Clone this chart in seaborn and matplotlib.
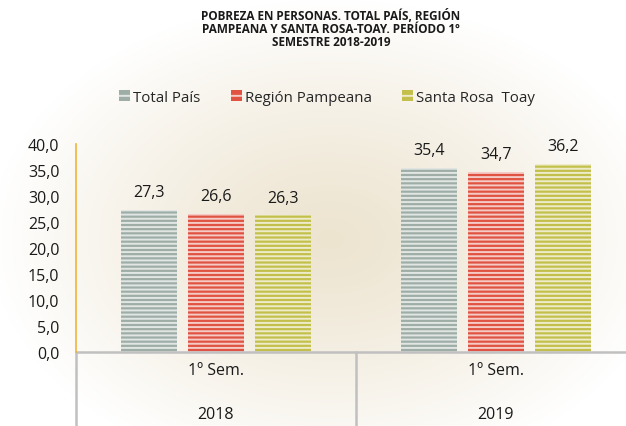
import numpy as np
import pandas as pd
import matplotlib
matplotlib.use("Agg")
import matplotlib.pyplot as plt
import seaborn as sns
from matplotlib.patches import Patch

# ---- data ----
periods = ["2018", "2019"]
semester_labels = ["1º Sem.", "1º Sem."]
series_names = ["Total País", "Región Pampeana", "Santa Rosa  Toay"]
total_pais = [27.3, 35.4]
region_pampeana = [26.6, 34.7]
santa_rosa_toay = [26.3, 36.2]
colors = ["#9eaea7", "#e05241", "#c3bf4b"]
title_lines = ["POBREZA EN PERSONAS. TOTAL PAÍS, REGIÓN",
               "PAMPEANA Y SANTA ROSA-TOAY. PERÍODO 1º",
               "SEMESTRE 2018-2019"]

df = pd.DataFrame({
    "period": periods * 3,
    "serie": [series_names[0]] * 2 + [series_names[1]] * 2 + [series_names[2]] * 2,
    "valor": total_pais + region_pampeana + santa_rosa_toay,
})

sns.set_theme(style="white")
plt.rcParams["font.family"] = ["Open Sans", "DejaVu Sans"]
plt.rcParams["hatch.linewidth"] = 1.4

W, H = 626, 427
fig = plt.figure(figsize=(W / 100, H / 100), dpi=100)

# background radial gradient
bg = fig.add_axes([0, 0, 1, 1], zorder=-10)
yy, xx = np.mgrid[0:H, 0:W]
r = np.sqrt(((xx - 330) / 340.0) ** 2 + ((yy - 240) / 240.0) ** 2)
t = np.clip(r, 0, 1) ** 1.2
c0 = np.array([237, 228, 208]) / 255.0
c1 = np.array([255, 255, 255]) / 255.0
img = c0[None, None, :] * (1 - t[..., None]) + c1[None, None, :] * t[..., None]
bg.imshow(img, aspect="auto", extent=[0, 1, 0, 1], origin="upper")
bg.set_axis_off()

ax = fig.add_axes([76 / W, 1 - 353 / H, 560 / W, (353 - 145) / H])
ax.patch.set_alpha(0)

sns.barplot(data=df, x="period", y="valor", hue="serie", hue_order=series_names,
            order=periods, palette=colors, width=0.718, gap=0.164,
            legend=False, ax=ax, saturation=1)

for cont in ax.containers:
    for p in cont:
        p.set_hatch("----")
        p.set_edgecolor((1, 1, 1, 0.7))
        p.set_linewidth(0)
    ax.bar_label(cont, labels=[f"{v:.1f}".replace(".", ",") for v in cont.datavalues],
                 padding=7, fontsize=11.5, color="#1a1a1a")

ax.set_ylim(0, 40)
ax.set_xlim(-0.5, 1.5)
ax.set_yticks(np.arange(0, 41, 5))
ax.set_yticklabels([f"{v:.1f}".replace(".", ",") for v in np.arange(0, 41, 5)],
                   fontsize=11.5, color="#1a1a1a")
ax.tick_params(axis="y", length=0, pad=12)
ax.set_xticks([0, 1])
ax.set_xticklabels(semester_labels, fontsize=11.5, color="#1a1a1a")
ax.tick_params(axis="x", length=0, pad=7)
ax.set_xlabel("")
ax.set_ylabel("")
for s in ["top", "right", "bottom"]:
    ax.spines[s].set_visible(False)
ax.spines["left"].set_color("#f0b43c")
ax.spines["left"].set_linewidth(1.2)

# multi-level category axis lines
line_kw = dict(color="#c0c0c0", lw=1.8, transform=ax.transAxes, clip_on=False)
ax.plot([0, 1], [0, 0], **line_kw)
ax.plot([0, 0], [0, -0.36], **line_kw)
ax.plot([0.5, 0.5], [0, -0.36], **line_kw)
for i, yr in enumerate(periods):
    ax.text(i, -0.3, yr, transform=ax.get_xaxis_transform(), ha="center",
            va="center", fontsize=11.5, color="#1a1a1a")

# legend
handles = [Patch(facecolor=c, edgecolor=(1, 1, 1, 0.7), hatch="--", linewidth=0) for c in colors]
fig.legend(handles, series_names, loc="center", bbox_to_anchor=(327 / W, 1 - 98 / H),
           ncol=3, frameon=False, fontsize=10.8, handlelength=0.75, handleheight=0.75,
           handletextpad=0.2, columnspacing=2.0)

# title
for i, line in enumerate(title_lines):
    fig.text(331 / W, 1 - (16 + 13.5 * i) / H, line, ha="center", va="center",
             fontsize=8.5, fontweight="bold", color="#1a1a1a")

fig.savefig("out.png", dpi=100)
